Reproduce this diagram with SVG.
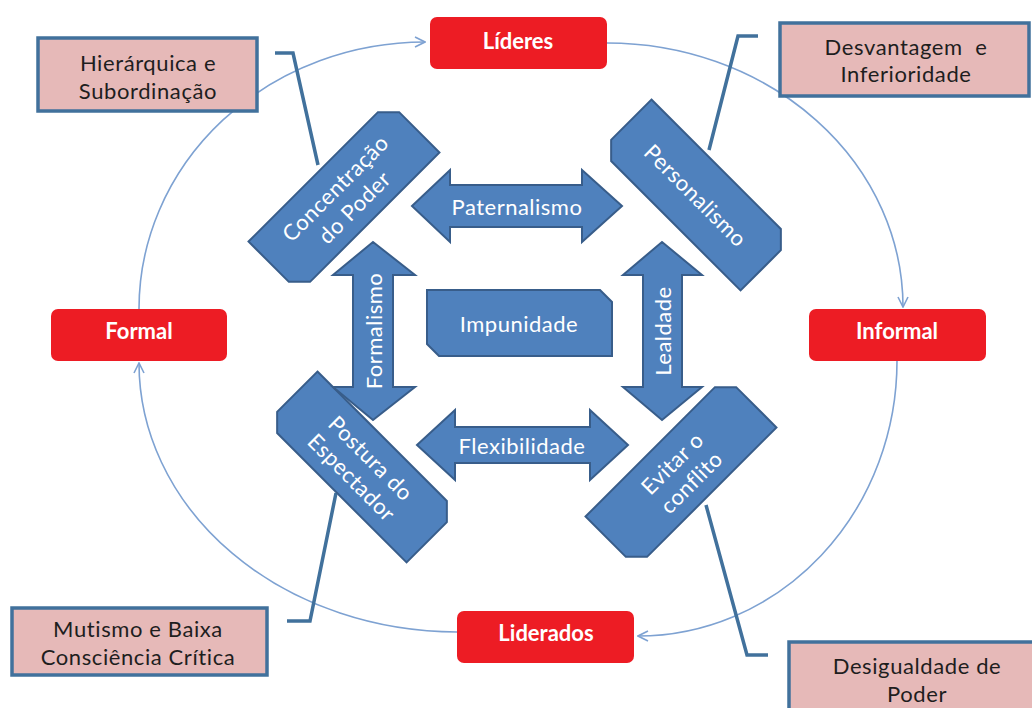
<svg xmlns="http://www.w3.org/2000/svg" width="1032" height="708" viewBox="0 0 1032 708">
<style>
.red{fill:#ED1C24;}
.rt{fill:#fff;font-family:Lato,"Liberation Sans",sans-serif;font-weight:bold;font-size:22px;text-anchor:middle;dominant-baseline:central;}
.pink{fill:#E6B9B8;stroke:#41719C;stroke-width:3.5;}
.pt{fill:#1e1e1e;font-family:Lato,"Liberation Sans",sans-serif;font-size:22px;letter-spacing:0.6px;text-anchor:middle;dominant-baseline:central;white-space:pre;}
.blue{fill:#4F81BD;stroke:#385D8A;stroke-width:2;}
.bt{fill:#fff;font-family:Lato,"Liberation Sans",sans-serif;font-size:22px;letter-spacing:0.5px;text-anchor:middle;dominant-baseline:central;}
.arc{fill:none;stroke:#7EA2D2;stroke-width:1.6;marker-end:url(#ah);}
.br{fill:none;stroke:#41719C;stroke-width:3.5;}
</style>
<defs>
<marker id="ah" viewBox="0 0 12 12" refX="11" refY="6" markerWidth="12" markerHeight="12" markerUnits="userSpaceOnUse" orient="auto">
<path d="M1,1 L11,6 L1,11" fill="none" stroke="#7EA2D2" stroke-width="1.6"/>
</marker>
<path id="snip" d="M-99,-36 H84 L99,-21 V36 H-84 L-99,21 Z"/>
</defs>
<rect width="1032" height="708" fill="#fff"/>
<g id="connectors">
<path class="arc" d="M139,309 A286,267 0 0 1 425,42"/>
<path class="arc" d="M607,43 A296,264 0 0 1 903,307"/>
<path class="arc" d="M897,361 A259,275 0 0 1 638,636"/>
<path class="arc" d="M457,632 A318,269 0 0 1 139,363"/>
<path class="br" d="M275,53 H293 L318,165"/>
<path class="br" d="M758,36 H738 L709,150"/>
<path class="br" d="M287,621 H310 L336,493"/>
<path class="br" d="M706,505 L747,655 H768"/>
</g>
<g id="lideres"><rect class="red" x="430" y="17" width="177" height="52" rx="7"/><text class="rt" x="518" y="40">Líderes</text></g>
<g id="formal"><rect class="red" x="51" y="309" width="176" height="52" rx="7"/><text class="rt" x="139" y="330">Formal</text></g>
<g id="informal"><rect class="red" x="809" y="309" width="177" height="52" rx="7"/><text class="rt" x="897" y="330">Informal</text></g>
<g id="liderados"><rect class="red" x="457" y="611" width="177" height="52" rx="7"/><text class="rt" x="546" y="632">Liderados</text></g>
<g id="hierarquica"><rect class="pink" x="38" y="38" width="219" height="73"/><text class="pt" x="148" y="62">Hierárquica e</text><text class="pt" x="148" y="90">Subordinação</text></g>
<g id="desvantagem"><rect class="pink" x="780" y="23" width="249" height="73"/><text class="pt" x="906" y="46">Desvantagem  e</text><text class="pt" x="906" y="73">Inferioridade</text></g>
<g id="mutismo"><rect class="pink" x="12" y="608" width="255" height="67"/><text class="pt" x="138" y="628">Mutismo e Baixa</text><text class="pt" x="138" y="656">Consciência Crítica</text></g>
<g id="desigualdade"><rect class="pink" x="789" y="642" width="260" height="80"/><text class="pt" x="917" y="665">Desigualdade de</text><text class="pt" x="917" y="693">Poder</text></g>
<g id="concentracao" transform="translate(344,197) rotate(-45)"><use href="#snip" class="blue"/><text class="bt" y="-13">Concentração</text><text class="bt" y="14">do Poder</text></g>
<g id="personalismo" transform="translate(696,195) rotate(45)"><use href="#snip" class="blue"/><text class="bt" y="0">Personalismo</text></g>
<g id="postura" transform="translate(362,467) rotate(45)"><use href="#snip" class="blue"/><text class="bt" y="-13">Postura do</text><text class="bt" y="14">Espectador</text></g>
<g id="evitar" transform="translate(681,472) rotate(-45)"><use href="#snip" class="blue"/><text class="bt" y="-13">Evitar o</text><text class="bt" y="14">conflito</text></g>
<g id="paternalismo"><path class="blue" d="M412,206 L450,170 V185 H582 V170 L622,206 L582,242 V227 H450 V242 Z"/><text class="bt" x="517" y="206">Paternalismo</text></g>
<g id="flexibilidade"><path class="blue" d="M417,445 L455,410 V427 H590 V410 L628,445 L590,480 V463 H455 V480 Z"/><text class="bt" x="522" y="445">Flexibilidade</text></g>
<g id="formalismo"><path class="blue" d="M373,242 L415,275 H393 V387 H415 L373,420 L333,387 H353 V275 H333 Z"/><text class="bt" transform="translate(373,331) rotate(-90)">Formalismo</text></g>
<g id="lealdade"><path class="blue" d="M662,242 L702,275 H682 V387 H702 L662,420 L623,387 H643 V275 H623 Z"/><text class="bt" transform="translate(662,331) rotate(-90)">Lealdade</text></g>
<g id="impunidade"><path class="blue" d="M427,290 H600 L612,302 V356 H439 L427,344 Z"/><text class="bt" x="519" y="323">Impunidade</text></g>
</svg>
